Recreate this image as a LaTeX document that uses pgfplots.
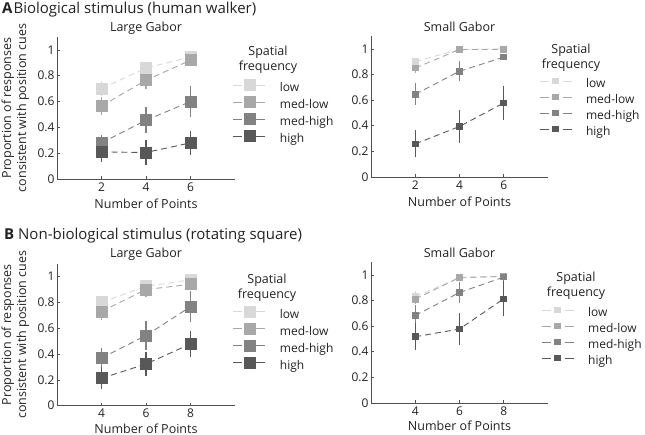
\documentclass[border=0pt]{standalone}
\usepackage{pgfplots}
\pgfplotsset{compat=1.18}
\usepackage{fontspec}
\setmainfont{Open Sans}
\definecolor{cLow}{HTML}{D8D8D8}
\definecolor{cMedLow}{HTML}{A8A8A8}
\definecolor{cMedHigh}{HTML}{828282}
\definecolor{cHigh}{HTML}{585858}
\definecolor{axc}{HTML}{505050}
\definecolor{txt}{HTML}{222222}

\pgfplotsset{
  ser/.style={color=#1, line width=0.9pt, dash pattern=on 6pt off 4pt,
    mark=square*, mark options={solid, fill=#1, draw=#1},
    /pgfplots/error bars/y dir=both, /pgfplots/error bars/y explicit,
    /pgfplots/error bars/error mark=none,
    /pgfplots/error bars/error bar style={solid, line width=1.4pt, color=#1}},
  panel/.style={scale only axis, anchor=south west,
    ymin=0, ymax=1.1, ytick={0,0.2,0.4,0.6,0.8,1},
    axis x line*=bottom, axis y line*=left,
    axis line style={axc, line width=0.6pt},
    tick style={axc, line width=0.6pt}, tick align=inside, major tick length=3pt,
    tick label style={font=\fontsize{12}{14}\selectfont, text=txt},
    yticklabel style={/pgf/number format/fixed, /pgf/number format/precision=1, xshift=1pt},
    /pgf/number format/assume math mode=true,
    label style={font=\fontsize{12.5}{15}\selectfont, text=txt},
    xlabel={Number of Points},
    xlabel style={yshift=-1pt},
    every axis title shift=0pt,
    title style={font=\fontsize{12.5}{15}\selectfont, text=txt, at={(axis description cs:0.5,1)}, anchor=center, yshift=9pt},
    legend cell align=left,
    legend style={draw=none, fill=none, inner sep=0pt, outer sep=0pt, row sep=0pt,
      column sep=12pt, anchor=north west, font=\fontsize{12}{14}\selectfont, text=txt,
      nodes={inner sep=2pt, text height=9pt, text depth=3pt}},
    legend image code/.code={
      \draw[##1, mark repeat=2, mark phase=2, dash pattern=on 9pt off 14pt]
        plot coordinates {(0pt,3.5pt)(16pt,3.5pt)(32pt,3.5pt)};},
  },
  ylab/.style={ylabel={Proportion of responses\\consistent with position cues},
    ylabel style={align=center, at={(axis description cs:-0.234,0.5)}, anchor=center}},
}

\begin{document}
\begin{tikzpicture}[x=1pt,y=1pt]
\useasboundingbox (0,0) rectangle (645,435);

% ---------------- A left
\begin{axis}[panel, ylab, at={(57pt,256pt)}, width=178pt, height=142pt,
  xmin=0, xmax=8, xtick={2,4,6}, title={Large Gabor},
  every axis plot/.append style={mark size=5.5pt},
  legend style={at={(0.989,0.70)}}]
\addplot[ser=cLow] coordinates {(2,0.70) +- (0,0.06) (4,0.86) +- (0,0.05) (6,0.945) +- (0,0.03)};
\addplot[ser=cMedLow] coordinates {(2,0.565) +- (0,0.07) (4,0.765) +- (0,0.07) (6,0.92) +- (0,0.03)};
\addplot[ser=cMedHigh] coordinates {(2,0.28) +- (0,0.06) (4,0.455) +- (0,0.10) (6,0.60) +- (0,0.12)};
\addplot[ser=cHigh] coordinates {(2,0.21) +- (0,0.08) (4,0.205) +- (0,0.095) (6,0.28) +- (0,0.095)};
\legend{low,med-low,med-high,high}
\end{axis}

% ---------------- A right
\begin{axis}[panel, at={(371pt,258pt)}, width=177pt, height=141pt,
  xmin=0, xmax=8, xtick={2,4,6}, title={Small Gabor},
  every axis plot/.append style={mark size=2.8pt},
  legend style={at={(0.95,0.713)}}]
\addplot[ser=cLow] coordinates {(2,0.90) +- (0,0.03) (4,0.995) +- (0,0.01) (6,1.0) +- (0,0.005)};
\addplot[ser=cMedLow] coordinates {(2,0.85) +- (0,0.04) (4,0.995) +- (0,0.01) (6,0.995) +- (0,0.01)};
\addplot[ser=cMedHigh] coordinates {(2,0.645) +- (0,0.085) (4,0.825) +- (0,0.08) (6,0.935) +- (0,0.025)};
\addplot[ser=cHigh] coordinates {(2,0.258) +- (0,0.105) (4,0.394) +- (0,0.13) (6,0.578) +- (0,0.13)};
\legend{low,med-low,med-high,high}
\end{axis}

% ---------------- B left
\begin{axis}[panel, ylab, at={(57pt,29.3pt)}, width=178pt, height=142pt,
  xmin=2, xmax=10, xtick={4,6,8}, title={Large Gabor},
  xlabel style={yshift=2pt},
  every axis plot/.append style={mark size=5.5pt},
  legend style={at={(0.989,0.699)}}]
\addplot[ser=cLow] coordinates {(4,0.80) +- (0,0.05) (6,0.925) +- (0,0.05) (8,0.975) +- (0,0.03)};
\addplot[ser=cMedLow] coordinates {(4,0.73) +- (0,0.07) (6,0.90) +- (0,0.06) (8,0.94) +- (0,0.04)};
\addplot[ser=cMedHigh] coordinates {(4,0.37) +- (0,0.08) (6,0.543) +- (0,0.11) (8,0.767) +- (0,0.12)};
\addplot[ser=cHigh] coordinates {(4,0.212) +- (0,0.085) (6,0.323) +- (0,0.095) (8,0.478) +- (0,0.10)};
\legend{low,med-low,med-high,high}
\end{axis}

% ---------------- B right
\begin{axis}[panel, at={(371pt,32pt)}, width=177pt, height=141pt,
  xmin=2, xmax=10, xtick={4,6,8}, title={Small Gabor},
  xlabel style={yshift=2pt},
  every axis plot/.append style={mark size=2.8pt},
  legend style={at={(0.962,0.691)}}]
\addplot[ser=cLow] coordinates {(4,0.83) +- (0,0.04) (6,0.975) +- (0,0.02) (8,0.99) +- (0,0.01)};
\addplot[ser=cMedLow] coordinates {(4,0.81) +- (0,0.04) (6,0.98) +- (0,0.02) (8,0.987) +- (0,0.01)};
\addplot[ser=cMedHigh] coordinates {(4,0.683) +- (0,0.085) (6,0.862) +- (0,0.085) (8,0.982) +- (0,0.03)};
\addplot[ser=cHigh] coordinates {(4,0.517) +- (0,0.105) (6,0.577) +- (0,0.125) (8,0.813) +- (0,0.135)};
\legend{low,med-low,med-high,high}
\end{axis}

% headings
\node[anchor=west, font=\fontsize{15}{17}\selectfont, text=txt, inner sep=0pt] at (2,425) {\textbf{A}\hspace{1pt}Biological stimulus (human walker)};
\node[anchor=west, font=\fontsize{15}{17}\selectfont, text=txt, inner sep=0pt] at (4,199) {\textbf{B} Non-biological stimulus (rotating square)};
\foreach \cx/\cy in {268/375, 571/377.5, 267/147.5, 576/149}
  \node[align=center, font=\fontsize{12.5}{15}\selectfont, text=txt] at (\cx,\cy) {Spatial\\frequency};
\end{tikzpicture}
\end{document}
